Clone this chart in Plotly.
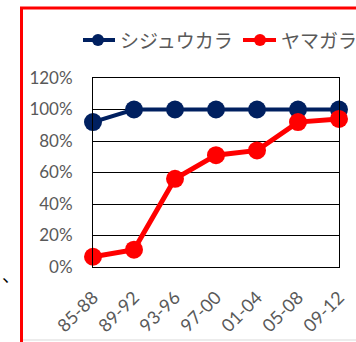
import plotly.graph_objects as go

periods = ["85-88", "89-92", "93-96", "97-00", "01-04", "05-08", "09-12"]
shijuukara = [92, 100, 100, 100, 100, 100, 100]
yamagara = [6.5, 11, 56, 71, 74, 92, 94]
series_names = ["シジュウカラ", "ヤマガラ"]
series_colors = ["#002060", "#FF0000"]
y_ticks = [0, 20, 40, 60, 80, 100, 120]
y_labels = [f"{v}%" for v in y_ticks]

W, H = 356, 342
L, R, T, B = 93, 17, 78, 75
pw, ph = W - L - R, H - T - B

def px2x(px):
    return (px - L) / pw

def py2y(py):
    return (H - B - py) / ph

fig = go.Figure()
fig.add_trace(go.Scatter(x=periods, y=shijuukara, name=series_names[0], mode="lines+markers",
                         line=dict(color=series_colors[0], width=4),
                         marker=dict(color=series_colors[0], size=18), cliponaxis=False))
fig.add_trace(go.Scatter(x=periods, y=yamagara, name=series_names[1], mode="lines+markers",
                         line=dict(color=series_colors[1], width=5),
                         marker=dict(color=series_colors[1], size=18), cliponaxis=False))

gray = "#595959"
fig.update_layout(
    width=W, height=H,
    margin=dict(l=L, r=R, t=T, b=B),
    paper_bgcolor="white", plot_bgcolor="white",
    showlegend=False,
    xaxis=dict(type="category", range=[0, 6], showgrid=False, automargin=False,
               showline=True, linecolor="black", linewidth=1, mirror=True,
               tickangle=-45, ticks="", ticklabelstandoff=12,
               tickfont=dict(family="Lato", size=18, color=gray)),
    yaxis=dict(range=[0, 120], tickmode="array", tickvals=y_ticks, ticktext=y_labels,
               showgrid=True, gridcolor="black", gridwidth=1, automargin=False,
               showline=True, linecolor="black", linewidth=1, mirror=True,
               zeroline=False, ticks="", ticklabelstandoff=16,
               tickfont=dict(family="Lato", size=17, color=gray)),
)

# manual legend
legend_items = [(83, 115, 98, 118), (243, 276, 260, 279)]
ly = py2y(40)
for (lx0, lx1, mx, tx), name, col in zip(legend_items, series_names, series_colors):
    fig.add_shape(type="line", xref="paper", yref="paper", x0=px2x(lx0), x1=px2x(lx1),
                  y0=ly, y1=ly, line=dict(color=col, width=4))
    fig.add_shape(type="circle", xref="paper", yref="paper", xsizemode="pixel", ysizemode="pixel",
                  xanchor=px2x(mx), yanchor=ly, x0=-6, x1=6, y0=-6, y1=6,
                  fillcolor=col, line=dict(color=col, width=0))
    fig.add_annotation(text=name, xref="paper", yref="paper", x=px2x(tx), xanchor="left",
                       y=ly, yanchor="middle", showarrow=False,
                       font=dict(family="Noto Sans CJK JP", size=19, color=gray))

# outer red frame
fig.add_shape(type="rect", xref="paper", yref="paper",
              x0=px2x(21.5), x1=px2x(365), y0=py2y(8), y1=py2y(360),
              line=dict(color="#FF0000", width=3), layer="below")
# light gray line at bottom
fig.add_shape(type="line", xref="paper", yref="paper",
              x0=px2x(23), x1=px2x(356), y0=py2y(340), y1=py2y(340),
              line=dict(color="#D9D9D9", width=1))
fig.add_annotation(text="、", xref="paper", yref="paper", x=px2x(0), xanchor="left",
                   y=py2y(274), yanchor="middle",
                   showarrow=False, font=dict(family="Noto Sans CJK JP", size=18, color="black"))

fig.write_html("out.html")
